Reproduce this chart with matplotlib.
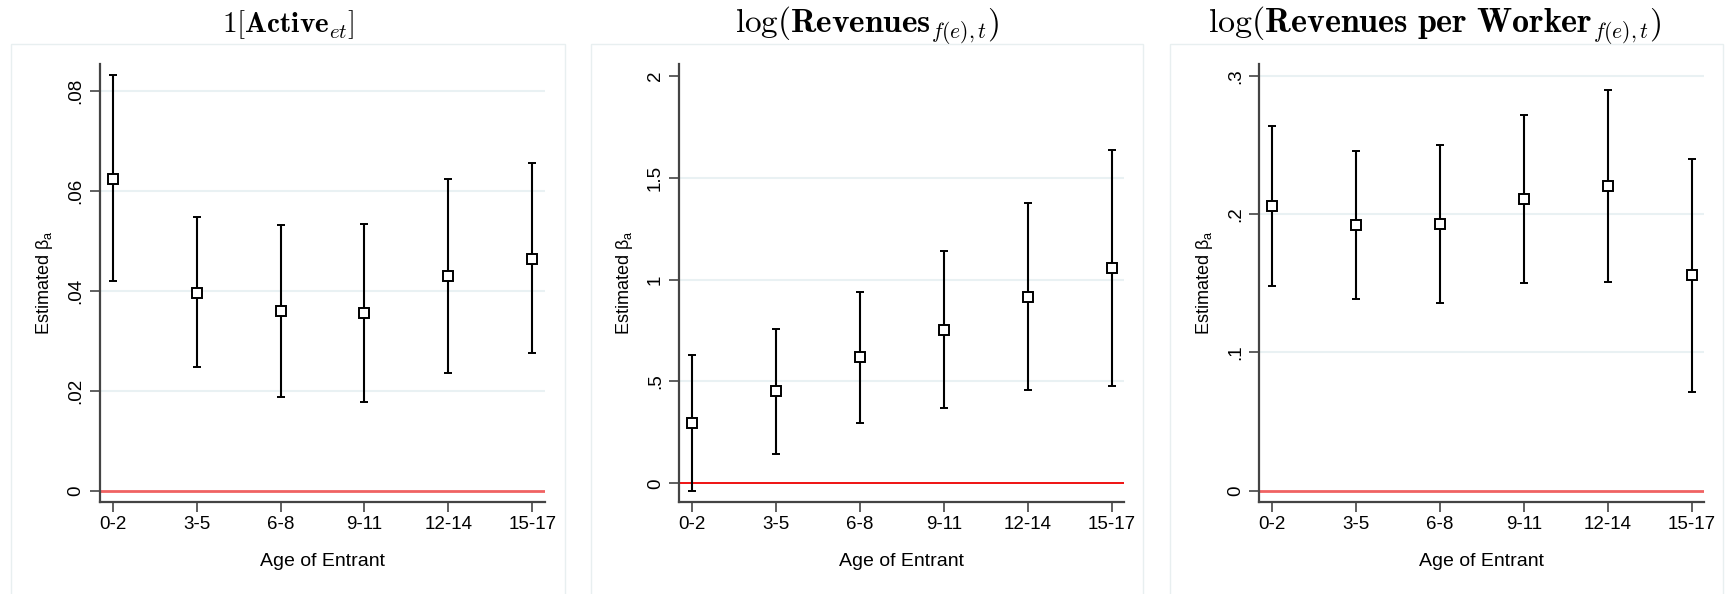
import matplotlib
matplotlib.use("Agg")
import matplotlib.pyplot as plt
from matplotlib.patches import Rectangle
import numpy as np

plt.rcParams['font.family'] = ['Liberation Sans', 'DejaVu Sans']
plt.rcParams['mathtext.fontset'] = 'cm'

categories = ['0-2', '3-5', '6-8', '9-11', '12-14', '15-17']

# Panel 1: 1[Active]
active_est = [0.0625, 0.0397, 0.0359, 0.0355, 0.0430, 0.0465]
active_lo = [0.0420, 0.0247, 0.0187, 0.0178, 0.0236, 0.0276]
active_hi = [0.0832, 0.0549, 0.0532, 0.0534, 0.0625, 0.0656]

# Panel 2: log(Revenues)
rev_est = [0.298, 0.452, 0.618, 0.755, 0.917, 1.057]
rev_lo = [-0.037, 0.145, 0.294, 0.372, 0.460, 0.480]
rev_hi = [0.629, 0.757, 0.941, 1.140, 1.377, 1.635]

# Panel 3: log(Revenues per Worker)
rpw_est = [0.2058, 0.1923, 0.1929, 0.2107, 0.2203, 0.1559]
rpw_lo = [0.148, 0.1386, 0.1359, 0.1499, 0.151, 0.0715]
rpw_hi = [0.264, 0.2458, 0.250, 0.2718, 0.2896, 0.240]

yticks1 = [0, 0.02, 0.04, 0.06, 0.08]
ylabels1 = ['0', '.02', '.04', '.06', '.08']
yticks2 = [0, 0.5, 1, 1.5, 2]
ylabels2 = ['0', '.5', '1', '1.5', '2']
yticks3 = [0, 0.1, 0.2, 0.3]
ylabels3 = ['0', '.1', '.2', '.3']

# title pieces: (main-before-subscript, subscript, closing)
title_main = [r'$\mathbf{1}[\mathbf{Active}$',
              r'$\log(\mathbf{Revenues}$',
              r'$\log(\mathbf{Revenues\ per\ Worker}$']
title_sub = [r'$et$', r'$f(e),t$', r'$f(e),t$']
title_close = [r'$]$', r'$)$', r'$)$']

W, H = 1725, 594
fig = plt.figure(figsize=(W / 100, H / 100), dpi=100)
fig.patch.set_facecolor('white')
renderer = fig.canvas.get_renderer()

panels = [
    dict(est=active_est, lo=active_lo, hi=active_hi, yt=yticks1, yl=ylabels1,
         ylim=(-0.00232, 0.08547), left=100, grid_skip=[0], zc='#f06262', zlw=2.0,
         frame=(11, 564.7), tfs=21, sfs=15, tshift=0),
    dict(est=rev_est, lo=rev_lo, hi=rev_hi, yt=yticks2, yl=ylabels2,
         ylim=(-0.0933, 2.059), left=679.3, grid_skip=[0, 2], zc='#ee0000', zlw=1.3,
         frame=(590.7, 1143), tfs=24, sfs=15.5, tshift=0),
    dict(est=rpw_est, lo=rpw_lo, hi=rpw_hi, yt=yticks3, yl=ylabels3,
         ylim=(-0.0084, 0.3087), left=1259.3, grid_skip=[0], zc='#f06262', zlw=2.0,
         frame=(1170, 1722.7), tfs=24.5, sfs=15.5, tshift=-12),
]

ax_w = 445
top_px, bot_px = 64, 502.3
x = np.arange(len(categories))

BASE_Y = 32.5
SUB_DY = 5.0


def place_title(cx_px, pieces):
    texts = []
    for s, size, dy in pieces:
        t = fig.text(0, 0, s, fontsize=size, va='baseline', ha='left')
        texts.append(t)
    widths = [t.get_window_extent(renderer).width for t in texts]
    xpos = cx_px - sum(widths) / 2
    for t, w, (s, size, dy) in zip(texts, widths, pieces):
        t.set_position((xpos / W, 1 - (BASE_Y + dy) / H))
        xpos += w


for i, p in enumerate(panels):
    fx0, fx1 = p['frame']
    fig.patches.append(Rectangle((fx0 / W, -0.05), (fx1 - fx0) / W, 1.05 - 44 / H,
                                 transform=fig.transFigure, fill=False,
                                 edgecolor='#e8eff0', lw=1.0, zorder=0))
    ax = fig.add_axes([p['left'] / W, 1 - bot_px / H, ax_w / W, (bot_px - top_px) / H])
    ax.set_facecolor('none')
    est = np.array(p['est'])
    lo = np.array(p['lo'])
    hi = np.array(p['hi'])
    for t in p['yt']:
        if t in p['grid_skip']:
            continue
        ax.axhline(t, color='#e9f1f3', lw=1.5, zorder=0)
    ax.axhline(0, color=p['zc'], lw=p['zlw'], zorder=1)
    ax.errorbar(x, est, yerr=[est - lo, hi - est], fmt='s', mfc='white', mec='black',
                ms=7, mew=1.4, ecolor='black', elinewidth=1.5, capsize=3.2,
                capthick=1.5, color='black', zorder=3)
    ax.set_xlim(-0.149, 5.149)
    ax.set_ylim(*p['ylim'])
    ax.set_xticks(x)
    ax.set_xticklabels(categories, fontsize=13.5)
    ax.set_yticks(p['yt'])
    ax.set_yticklabels(p['yl'], fontsize=13.5, rotation=90, va='center')
    for s in ['top', 'right']:
        ax.spines[s].set_visible(False)
    for s in ['left', 'bottom']:
        ax.spines[s].set_color('#444444')
        ax.spines[s].set_linewidth(1.6)
    ax.tick_params(axis='both', length=7, width=1.2, color='#444444', labelcolor='black')
    ax.tick_params(axis='x', pad=3)
    ax.tick_params(axis='y', pad=4)
    ax.set_xlabel('Age of Entrant', fontsize=14, labelpad=14)
    ax.set_ylabel(r'Estimated $\mathregular{\beta_a}$', fontsize=13, labelpad=9)
    cx = (fx0 + fx1) / 2 + p['tshift']
    place_title(cx, [(title_main[i], p['tfs'], 0.0),
                     (title_sub[i], p['sfs'], SUB_DY),
                     (title_close[i], p['tfs'], 0.0)])

fig.savefig('out.png', dpi=100, facecolor='white')
